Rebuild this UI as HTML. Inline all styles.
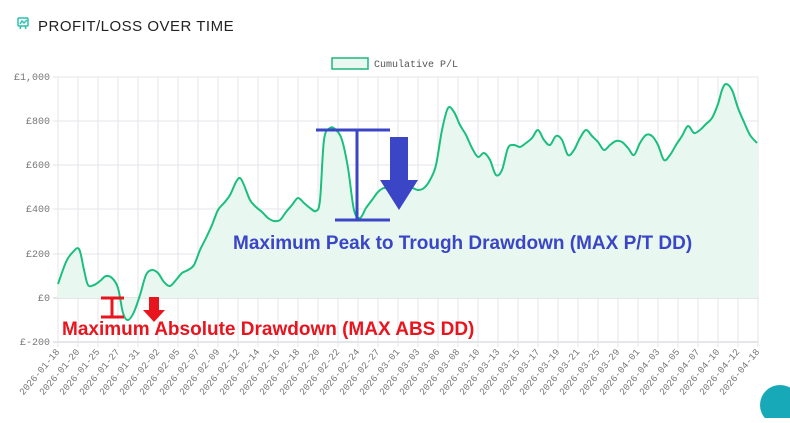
<!DOCTYPE html>
<html><head><style>
body{margin:0;background:#fff;width:790px;height:418px;overflow:hidden;font-family:"Liberation Sans",sans-serif}
</style></head><body>
<svg width="790" height="418" xmlns="http://www.w3.org/2000/svg">
<g fill="none" stroke="#2bbfb0" stroke-width="1.5">
<rect x="18" y="18" width="10" height="8" rx="1"/>
<path d="M20 24 l2-3 2 2 3-3"/><path d="M21 26 l-1 3 M25 26 l1 3"/>
</g>
<text x="38" y="31" font-size="15" fill="#222" letter-spacing="0.5">PROFIT/LOSS OVER TIME</text>
<rect x="332" y="58" width="36" height="11" fill="#eaf8f2" stroke="#1fb87a" stroke-width="1.5"/>
<text x="374" y="67" font-family="Liberation Mono,monospace" font-size="10" fill="#555">Cumulative P/L</text>
<g stroke="#e4e6ea" stroke-width="1" id="grid"></g>
<g font-family="Liberation Mono,monospace" font-size="10" fill="#777" text-anchor="end">
<text x="50" y="80">£1,000</text><text x="50" y="124">£800</text><text x="50" y="168">£600</text>
<text x="50" y="212">£400</text><text x="50" y="257">£200</text><text x="50" y="301">£0</text><text x="50" y="345">£-200</text>
</g>
<g id="xl" font-family="Liberation Mono,monospace" font-size="9.5" fill="#777"></g>
<path id="area" fill="#e8f8f1" stroke="none"/>
<path id="line" fill="none" stroke="#1bbf7d" stroke-width="2" stroke-linejoin="round"/>
<g stroke="#3a46c6" stroke-width="3">
<line x1="316" y1="130" x2="390" y2="130"/><line x1="357" y1="130" x2="357" y2="220"/><line x1="335" y1="220" x2="390" y2="220"/>
</g>
<polygon points="390,137 408,137 408,180 418,180 399,210 380,180 390,180" fill="#3a46c6"/>
<text x="233" y="249" font-size="19" font-weight="bold" fill="#3a46c6">Maximum Peak to Trough Drawdown (MAX P/T DD)</text>
<g stroke="#e8141e" stroke-width="3">
<line x1="101" y1="298" x2="124" y2="298"/><line x1="112" y1="298" x2="112" y2="317"/><line x1="101" y1="317" x2="124" y2="317"/>
</g>
<polygon points="149,297 159,297 159,310 165,310 154,322 143,310 149,310" fill="#e8141e"/>
<text x="62" y="335" font-size="19" font-weight="bold" fill="#e8141e">Maximum Absolute Drawdown (MAX ABS DD)</text>
<circle cx="780" cy="405" r="20" fill="#17a9b8"/>
</svg>
<script>
const ns="http://www.w3.org/2000/svg";
const g=document.getElementById('grid');
for(let i=0;i<=35;i++){const x=58+i*20;const l=document.createElementNS(ns,'line');l.setAttribute('x1',x);l.setAttribute('x2',x);l.setAttribute('y1',77);l.setAttribute('y2',347);g.appendChild(l);}
[77,121,165,209,254,298,342].forEach(y=>{const l=document.createElementNS(ns,'line');l.setAttribute('x1',53);l.setAttribute('x2',758);l.setAttribute('y1',y);l.setAttribute('y2',y);if(y==298||y==342)l.setAttribute('stroke-width',2);g.appendChild(l);});
const labs="01-18 01-20 01-25 01-27 01-31 02-02 02-05 02-07 02-09 02-12 02-14 02-16 02-18 02-20 02-22 02-24 02-27 03-01 03-03 03-06 03-08 03-10 03-13 03-15 03-17 03-19 03-21 03-25 03-29 04-01 04-03 04-05 04-07 04-10 04-12 04-18".split(' ');
const xl=document.getElementById('xl');
labs.forEach((s,i)=>{const x=60+i*20,y=352;const t=document.createElementNS(ns,'text');t.setAttribute('x',x);t.setAttribute('y',y);t.setAttribute('text-anchor','end');t.setAttribute('transform',`rotate(-50 ${x} ${y})`);t.textContent='2026-'+s;xl.appendChild(t);});
const p=[58,284,66,262,72,253,79,249,84,270,88,285,94,285,100,281,106,276,112,278,118,288,123,313,128,320,134,312,140,295,146,275,152,270,158,273,164,282,170,286,176,280,182,273,188,270,194,265,200,250,206,238,212,225,218,210,224,203,230,195,236,182,240,178,244,185,250,200,256,207,262,212,268,218,274,221,280,220,286,212,292,205,298,198,304,203,310,208,316,211,320,200,324,140,330,128,336,130,342,140,348,168,354,210,360,218,366,208,372,200,378,192,384,188,390,190,396,195,400,195,406,190,412,188,418,190,424,188,430,180,436,165,442,130,448,108,454,112,460,125,466,135,472,148,478,157,484,153,490,160,496,175,502,170,508,148,514,145,520,147,526,143,532,138,538,130,544,140,550,145,556,136,562,140,568,155,574,150,580,138,586,130,592,136,598,142,604,150,610,145,616,141,622,142,628,148,634,155,640,143,646,135,652,136,658,145,664,160,670,155,676,145,682,136,688,126,694,133,700,130,706,124,712,118,718,104,722,90,726,84,732,90,738,108,744,122,750,135,757,143];
let pts=[];for(let i=0;i<p.length;i+=2)pts.push([p[i],p[i+1]]);
let d='M'+pts[0];
for(let i=0;i<pts.length-1;i++){const a=pts[i-1]||pts[i],b=pts[i],c=pts[i+1],e=pts[i+2]||c;
d+=` C${b[0]+(c[0]-a[0])/6},${b[1]+(c[1]-a[1])/6} ${c[0]-(e[0]-b[0])/6},${c[1]-(e[1]-b[1])/6} ${c[0]},${c[1]}`;}
document.getElementById('line').setAttribute('d',d);
document.getElementById('area').setAttribute('d',d+' L757,298 L58,298 Z');
</script>
</body></html>
